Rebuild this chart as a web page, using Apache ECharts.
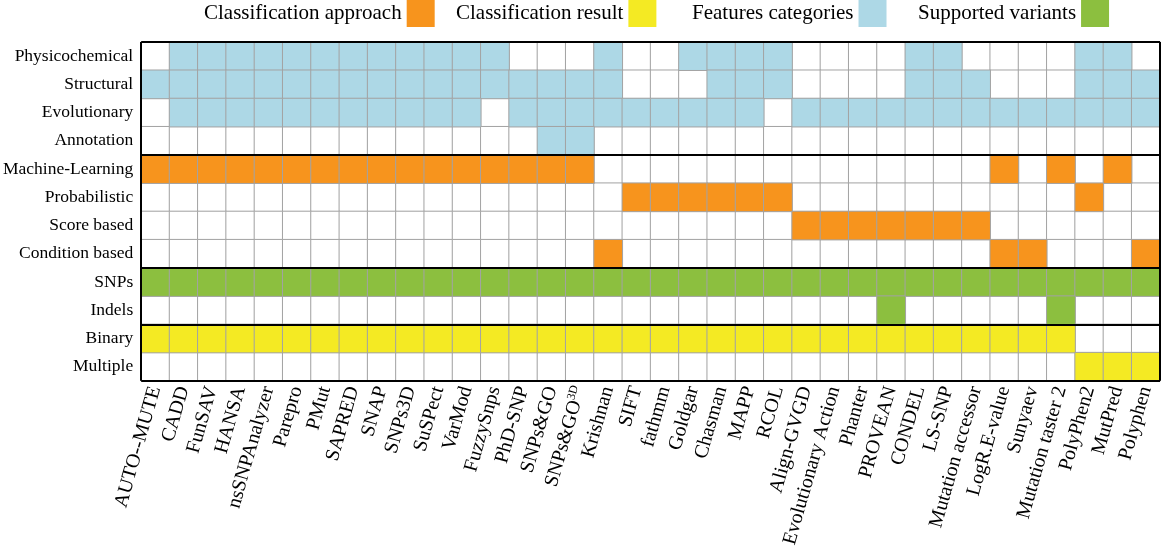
<!DOCTYPE html>
<html>
<head>
<meta charset="utf-8">
<script src="https://cdn.jsdelivr.net/npm/echarts@6/dist/echarts.min.js"></script>
<style>html,body{margin:0;padding:0;background:#fff;}#c{width:1162px;height:550px;}</style>
</head>
<body>
<div id="c"></div>
<script>
const tools = ['AUTO--MUTE','CADD','FunSAV','HANSA','nsSNPAnalyzer','Parepro','PMut','SAPRED','SNAP','SNPs3D','SuSPect','VarMod','FuzzySnps','PhD-SNP','SNPs&GO','SNPs&GO3D','Krishnan','SIFT','fathmm','Goldgar','Chasman','MAPP','RCOL','Align-GVGD','Evolutionary Action','Phanter','PROVEAN','CONDEL','LS-SNP','Mutation accessor','LogR.E-value','Sunyaev','Mutation taster 2','PolyPhen2','MutPred','Polyphen'];
const rowLabels = ['Physicochemical','Structural','Evolutionary','Annotation','Machine-Learning','Probabilistic','Score based','Condition based','SNPs','Indels','Binary','Multiple'];
const groupNames = ['Classification approach','Classification result','Features categories','Supported variants'];
const groupColors = ['#F7941D','#F4EA23','#ADD8E6','#8CBF3F'];

// Features categories
const physicochemical = [0,1,1,1,1,1,1,1,1,1,1,1,1,0,0,0,1,0,0,1,1,1,1,0,0,0,0,1,1,0,0,0,0,1,1,0];
const structural      = [1,1,1,1,1,1,1,1,1,1,1,1,1,1,1,1,1,0,0,0,1,1,1,0,0,0,0,1,1,1,0,0,0,1,1,1];
const evolutionary    = [0,1,1,1,1,1,1,1,1,1,1,1,0,1,1,1,1,1,1,1,1,1,0,1,1,1,1,1,1,1,1,1,1,1,1,1];
const annotation      = [0,0,0,0,0,0,0,0,0,0,0,0,0,0,1,1,0,0,0,0,0,0,0,0,0,0,0,0,0,0,0,0,0,0,0,0];
// Classification approach
const machineLearning = [1,1,1,1,1,1,1,1,1,1,1,1,1,1,1,1,0,0,0,0,0,0,0,0,0,0,0,0,0,0,1,0,1,0,1,0];
const probabilistic   = [0,0,0,0,0,0,0,0,0,0,0,0,0,0,0,0,0,1,1,1,1,1,1,0,0,0,0,0,0,0,0,0,0,1,0,0];
const scoreBased      = [0,0,0,0,0,0,0,0,0,0,0,0,0,0,0,0,0,0,0,0,0,0,0,1,1,1,1,1,1,1,0,0,0,0,0,0];
const conditionBased  = [0,0,0,0,0,0,0,0,0,0,0,0,0,0,0,0,1,0,0,0,0,0,0,0,0,0,0,0,0,0,1,1,0,0,0,1];
// Supported variants
const snps            = [1,1,1,1,1,1,1,1,1,1,1,1,1,1,1,1,1,1,1,1,1,1,1,1,1,1,1,1,1,1,1,1,1,1,1,1];
const indels          = [0,0,0,0,0,0,0,0,0,0,0,0,0,0,0,0,0,0,0,0,0,0,0,0,0,0,1,0,0,0,0,0,1,0,0,0];
// Classification result
const binary          = [1,1,1,1,1,1,1,1,1,1,1,1,1,1,1,1,1,1,1,1,1,1,1,1,1,1,1,1,1,1,1,1,1,0,0,0];
const multiple        = [0,0,0,0,0,0,0,0,0,0,0,0,0,0,0,0,0,0,0,0,0,0,0,0,0,0,0,0,0,0,0,0,0,1,1,1];

const rows = [physicochemical, structural, evolutionary, annotation, machineLearning, probabilistic, scoreBased, conditionBased, snps, indels, binary, multiple];
const rowGroup = [2,2,2,2,0,0,0,0,3,3,1,1];
const groupBreaks = [0,4,8,10,12];

const seriesData = [[],[],[],[]];
const blankData = [];
rows.forEach((r, ri) => {
  r.forEach((v, ci) => {
    if (v) seriesData[rowGroup[ri]].push([ci, ri, 1]);
    else blankData.push([ci, ri, 0]);
  });
});

const font = 'Liberation Serif';
const cellBorder = { borderColor: '#A3A3A3', borderWidth: 1 };

const series = [{
  name: 'blank', type: 'heatmap', data: blankData,
  itemStyle: Object.assign({ color: '#ffffff' }, cellBorder),
  emphasis: { disabled: true }, silent: true
}];
groupNames.forEach((n, i) => {
  series.push({
    name: n, type: 'heatmap', data: seriesData[i],
    itemStyle: Object.assign({ color: groupColors[i] }, cellBorder),
    emphasis: { disabled: true }, silent: true
  });
});
series.push({
  name: 'separators', type: 'line', xAxisIndex: 1, yAxisIndex: 1, data: [],
  silent: true,
  markLine: {
    silent: true, symbol: ['none', 'none'], label: { show: false },
    lineStyle: { color: '#000', width: 2, type: 'solid' },
    data: groupBreaks.map(b => ({ yAxis: b })).concat([{ xAxis: 0 }, { xAxis: tools.length }])
  }
});

const legendLefts = [199, 451, 687, 913];
const legends = groupNames.map((n, i) => ({
  data: [n], left: legendLefts[i], top: -5, align: 'right', icon: 'rect',
  itemWidth: 28, itemHeight: 27, itemGap: 0, selectedMode: false,
  itemStyle: { borderWidth: 0 },
  textStyle: { fontFamily: font, fontSize: 21, color: '#000', padding: [0, 0, 0, 0] }
}));

const chart = echarts.init(document.getElementById('c'), null, { renderer: 'canvas' });
chart.setOption({
  animation: false,
  backgroundColor: '#fff',
  legend: legends,
  grid: { left: 139, right: 2, top: 42, bottom: 167, containLabel: false },
  xAxis: [{
    type: 'category', data: tools, position: 'bottom',
    axisLine: { show: false }, axisTick: { show: false }, splitLine: { show: false },
    axisLabel: {
      rotate: 74, interval: 0, margin: 6, color: '#000', fontFamily: font, fontSize: 20,
      formatter: v => v === 'SNPs&GO3D' ? '{n|SNPs&GO}{s|3D}' : '{n|' + v + '}',
      rich: {
        n: { fontFamily: font, fontSize: 20, color: '#000' },
        s: { fontFamily: font, fontSize: 12, color: '#000', verticalAlign: 'top', padding: [0, 0, 10, 0] }
      }
    }
  }, {
    type: 'value', min: 0, max: tools.length, show: false
  }],
  yAxis: [{
    type: 'category', data: rowLabels, inverse: true,
    axisLine: { show: false }, axisTick: { show: false }, splitLine: { show: false },
    axisLabel: { margin: 8, color: '#000', fontFamily: font, fontSize: 17.5 }
  }, {
    type: 'value', min: 0, max: rowLabels.length, inverse: true, show: false
  }],
  series: series
});
</script>
</body>
</html>
